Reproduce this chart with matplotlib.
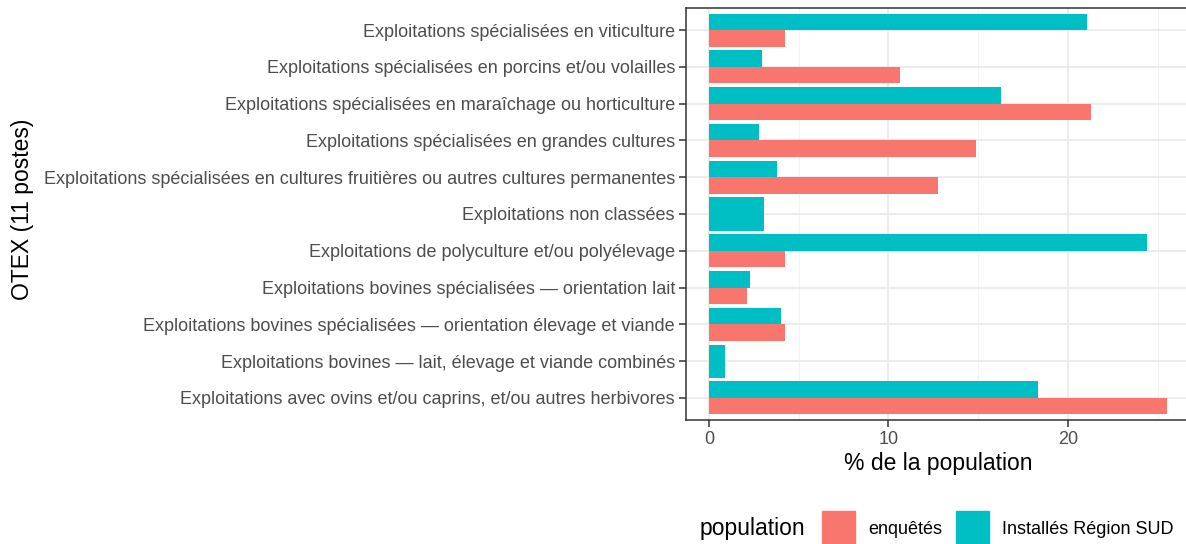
import numpy as np
import matplotlib.pyplot as plt
from matplotlib.patches import Rectangle

plt.rcParams['font.family'] = ['Liberation Sans', 'DejaVu Sans']

# Catégories OTEX (de haut en bas)
categories = [
    "Exploitations spécialisées en viticulture",
    "Exploitations spécialisées en porcins et/ou volailles",
    "Exploitations spécialisées en maraîchage ou horticulture",
    "Exploitations spécialisées en grandes cultures",
    "Exploitations spécialisées en cultures fruitières ou autres cultures permanentes",
    "Exploitations non classées",
    "Exploitations de polyculture et/ou polyélevage",
    "Exploitations bovines spécialisées — orientation lait",
    "Exploitations bovines spécialisées — orientation élevage et viande",
    "Exploitations bovines — lait, élevage et viande combinés",
    "Exploitations avec ovins et/ou caprins, et/ou autres herbivores",
]
# % de la population (None = absent)
enquetes = [4.26, 10.64, 21.28, 14.89, 12.77, None, 4.26, 2.13, 4.26, None, 25.53]
installes = [21.04, 2.97, 16.3, 2.79, 3.81, 3.07, 24.42, 2.27, 4.0, 0.89, 18.31]

series_names = ["enquêtés", "Installés Région SUD"]
colors = ["#F8766D", "#00BFC4"]

fig = plt.figure(figsize=(11.86, 5.44), dpi=100)
ax = fig.add_axes([686 / 1186, 1 - 420 / 544, 504 / 1186, 412 / 544])

n = len(categories)
ypos = np.arange(n)[::-1] + 1  # viticulture en haut
w = 0.45
for y, e, i in zip(ypos, enquetes, installes):
    if e is None:
        ax.barh(y, i, height=2 * w, color=colors[1], zorder=3)
    else:
        ax.barh(y - w / 2, e, height=w, color=colors[0], zorder=3)
        ax.barh(y + w / 2, i, height=w, color=colors[1], zorder=3)

xmax = max(max(v for v in enquetes if v is not None), max(installes))
ax.set_xlim(-0.05 * xmax, 1.05 * xmax)
ax.set_ylim(0.4, n + 0.6)

ax.set_yticks(ypos)
ax.set_yticklabels(categories)
ax.set_xticks([0, 10, 20])
ax.set_xticks([5, 15, 25], minor=True)
ax.tick_params(axis='both', which='major', length=5, width=1.1, color='#333333',
               labelcolor='#4D4D4D', labelsize=13, pad=3)
ax.tick_params(axis='x', which='minor', length=0)
ax.grid(True, which='major', color='#EBEBEB', linewidth=1.3, zorder=0)
ax.grid(True, which='minor', axis='x', color='#F2F2F2', linewidth=0.8, zorder=0)
ax.set_axisbelow(True)
for s in ax.spines.values():
    s.set_color('#333333')
    s.set_linewidth(1.1)
ax.spines['right'].set_visible(False)

ax.set_xlabel("% de la population", fontsize=16.5, labelpad=3)
fig.text(23 / 1186, 1 - 209 / 544, "OTEX (11 postes)", rotation=90, fontsize=16.5,
         ha='center', va='center')

# Légende en bas
fig.text(700 / 1186, 1 - 529 / 544, "population", fontsize=16.5, ha='left', va='center')
key_x = [822, 956]
text_x = [868, 1002]
for kx, tx, c, lab in zip(key_x, text_x, colors, series_names):
    fig.patches.append(Rectangle((kx / 1186, 1 - 546 / 544), 33 / 1186, 35 / 544,
                                 transform=fig.transFigure, color=c))
    fig.text(tx / 1186, 1 - 529 / 544, lab, fontsize=13, ha='left', va='center')

fig.savefig("out.png", dpi=100)
